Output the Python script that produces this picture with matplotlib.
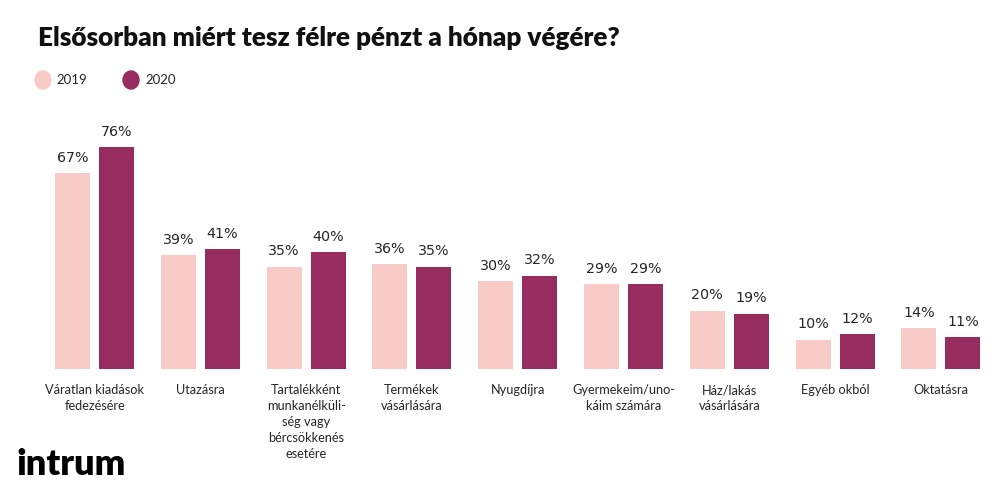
import matplotlib
matplotlib.use("Agg")
import matplotlib.pyplot as plt
import numpy as np

categories = [
    "Váratlan kiadások\nfedezésére",
    "Utazásra",
    "Tartalékként\nmunkanélküli-\nség vagy\nbércsökkenés\nesetére",
    "Termékek\nvásárlására",
    "Nyugdíjra",
    "Gyermekeim/uno-\nkáim számára",
    "Ház/lakás\nvásárlására",
    "Egyéb okból",
    "Oktatásra",
]
values_2019 = [67, 39, 35, 36, 30, 29, 20, 10, 14]
values_2020 = [76, 41, 40, 35, 32, 29, 19, 12, 11]

c2019 = "#F8CBC6"
c2020 = "#962D5E"
txt = "#262626"

W, H = 1000, 498
fig = plt.figure(figsize=(W / 100, H / 100), dpi=100)

# axes placed in pixel terms: baseline at y=369 from top, ~2.92 px per percent
base_px = 369
px_per_pct = 2.92
ymax = 85
ax_h = ymax * px_per_pct
ax = fig.add_axes([0, (H - base_px) / H, 1, ax_h / H])

step = 105.8
x0 = 94.5
ax.set_xlim(-x0 / step, (W - x0) / step)
ax.set_ylim(0, ymax)

x = np.arange(len(categories))
bw = 35 / step
off = 22 / step
b1 = ax.bar(x - off, values_2019, width=bw, color=c2019)
b2 = ax.bar(x + off, values_2020, width=bw, color=c2020)

for bars in (b1, b2):
    for b in bars:
        ax.annotate(f"{int(b.get_height())}%",
                    (b.get_x() + b.get_width() / 2, b.get_height()),
                    xytext=(0, 6), textcoords="offset points",
                    ha="center", va="bottom", fontsize=10.3,
                    family="DejaVu Sans", color=txt)

ax.set_xticks(x)
ax.set_xticklabels(categories, fontsize=9.2, family="Lato", color=txt,
                   linespacing=1.4, va="top")
ax.tick_params(axis="x", length=0, pad=11)
ax.set_yticks([])
for s in ax.spines.values():
    s.set_visible(False)
ax.patch.set_alpha(0)

# title
fig.text(38 / W, 1 - 46 / H, "Elsősorban miért tesz félre pénzt a hónap végére?",
         fontsize=18.8, fontweight="heavy", family="Lato", color="#111111",
         ha="left", va="baseline")

# legend with circles
for cx, tx, lab, col in [(43, 56, "2019", c2019), (131, 145, "2020", c2020)]:
    fig.patches.append(matplotlib.patches.Ellipse(
        (cx / W, 1 - 80 / H), 16 / W, 18 / H, transform=fig.transFigure,
        color=col))
    fig.text(tx / W, 1 - 80 / H, lab, fontsize=9.5, family="Lato",
             color=txt, ha="left", va="center")

# logo text
fig.text(17 / W, 1 - 475 / H, "intrum", fontsize=26, fontweight="heavy",
         family="Lato", color="#000000", ha="left", va="baseline")

fig.savefig("out.png", dpi=100, facecolor="white")
